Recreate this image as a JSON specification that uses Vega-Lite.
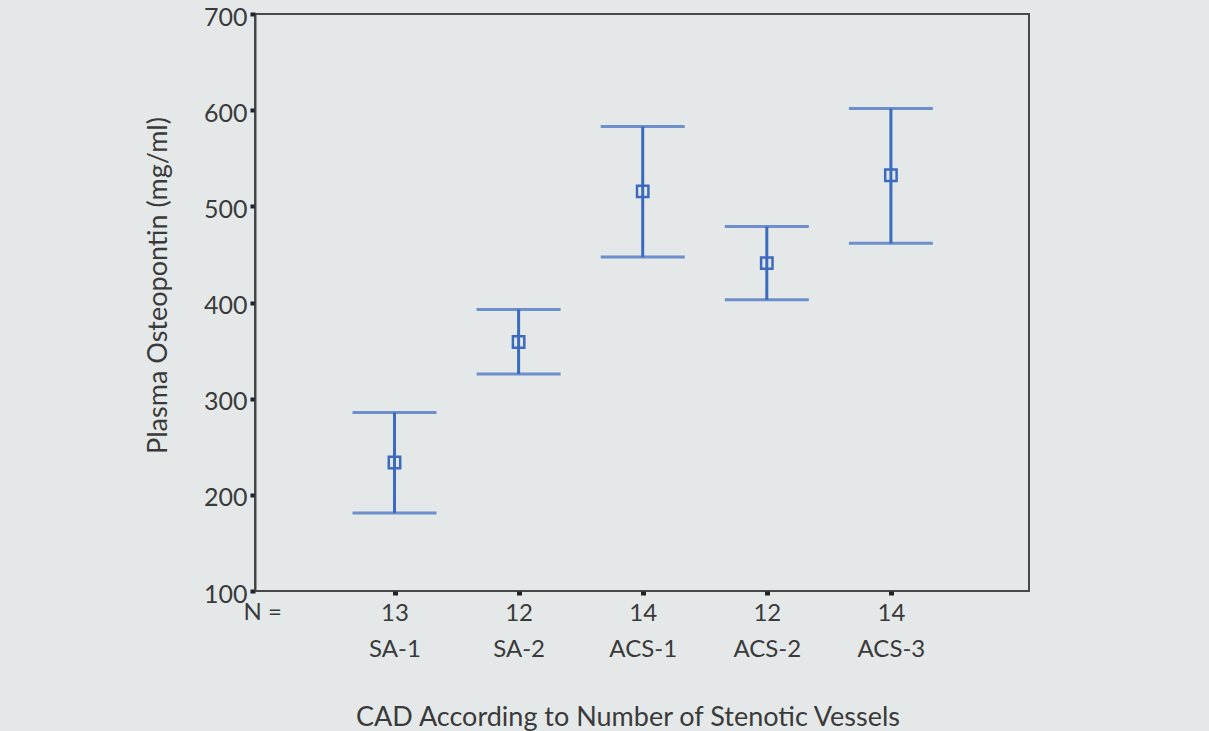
{
  "$schema": "https://vega.github.io/schema/vega-lite/v6.json",
  "autosize": {"type": "none"},
  "padding": {"left": 255, "top": 14, "right": 180, "bottom": 140},
  "width": 774,
  "height": 577,
  "background": "#e4e8e8",
  "config": {
    "font": "Lato",
    "view": {"stroke": "#484848", "strokeWidth": 2},
    "axis": {"grid": false, "domainColor": "#444444", "domainWidth": 2, "tickColor": "#222222", "labelColor": "#3a3a3a", "titleColor": "#3a3a3a", "titleFontWeight": "normal", "labelFont": "Lato", "titleFont": "Lato"}
  },
  "title": {"text": "CAD According to Number of Stenotic Vessels", "orient": "bottom", "anchor": "middle", "fontSize": 27, "fontWeight": "normal", "color": "#3a3a3a", "font": "Lato", "dx": -14, "offset": 43},
  "data": {"values": [
    {"group": "SA-1", "n": 13, "mean": 233.6, "lower": 181, "upper": 285.7},
    {"group": "SA-2", "n": 12, "mean": 359, "lower": 325.7, "upper": 392.7},
    {"group": "ACS-1", "n": 14, "mean": 515.6, "lower": 447.2, "upper": 583},
    {"group": "ACS-2", "n": 12, "mean": 440.9, "lower": 402.8, "upper": 478.9},
    {"group": "ACS-3", "n": 14, "mean": 532.3, "lower": 461.5, "upper": 601.8}
  ]},
  "encoding": {
    "x": {
      "field": "group", "type": "nominal",
      "sort": ["SA-1", "SA-2", "ACS-1", "ACS-2", "ACS-3"],
      "scale": {"type": "point", "padding": 1, "range": [15.4, 760]},
      "axis": {
        "title": "N =", "titleX": -12, "titleY": 21, "titleAlign": "left", "titleBaseline": "middle", "titleFontSize": 24,
        "domain": false,
        "labelAngle": 0, "labelFontSize": 24, "labelLineHeight": 36.5, "labelBaseline": "top", "labelPadding": 6,
        "tickSize": 4, "tickWidth": 5,
        "labelExpr": "[{'SA-1':'13','SA-2':'12','ACS-1':'14','ACS-2':'12','ACS-3':'14'}[datum.value], datum.value]"
      }
    }
  },
  "layer": [
    {
      "mark": {"type": "rule", "color": "#3b6abf", "strokeWidth": 3},
      "encoding": {
        "y": {"field": "lower", "type": "quantitative", "scale": {"domain": [100, 700], "nice": false, "zero": false},
          "axis": {"title": "Plasma Osteopontin (mg/ml)", "values": [100, 200, 300, 400, 500, 600, 700], "labelFontSize": 25, "labelOffset": 3, "titleFontSize": 27, "tickSize": 5, "tickWidth": 4, "labelPadding": 3, "titleX": -97, "titleY": 271, "titleAlign": "center", "titleBaseline": "middle", "titleAngle": -90}},
        "y2": {"field": "upper"}
      }
    },
    {
      "mark": {"type": "tick", "color": "#3b6abf", "size": 84, "thickness": 3, "orient": "horizontal"},
      "encoding": {"y": {"field": "lower", "type": "quantitative"}}
    },
    {
      "mark": {"type": "tick", "color": "#3b6abf", "size": 84, "thickness": 3, "orient": "horizontal"},
      "encoding": {"y": {"field": "upper", "type": "quantitative"}}
    },
    {
      "mark": {"type": "point", "shape": "square", "filled": false, "color": "#3b6abf", "size": 130, "strokeWidth": 2.5, "opacity": 1},
      "encoding": {"y": {"field": "mean", "type": "quantitative"}}
    }
  ]
}
